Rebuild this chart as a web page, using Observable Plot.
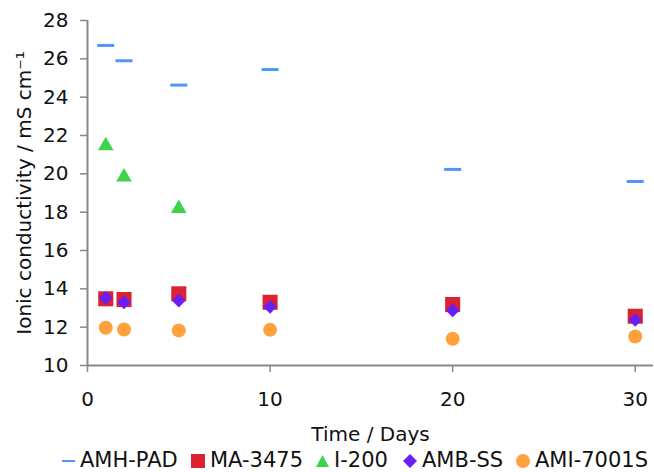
<!DOCTYPE html>
<html>
<head>
<meta charset="utf-8">
<script src="https://cdn.jsdelivr.net/npm/d3@7"></script>
<script src="https://cdn.jsdelivr.net/npm/@observablehq/plot@0.6"></script>
<style>
  html, body { margin: 0; padding: 0; background: #fff; }
  #chart { width: 654px; height: 472px; position: relative; font-family: "DejaVu Sans", Verdana, sans-serif; }
  .legend { position: absolute; left: 0; top: 449px; height: 23px; width: 654px; font-size: 21px; line-height: 23px; color: #111; white-space: nowrap; }
  .legend .item { position: absolute; top: 0; display: flex; align-items: center; height: 23px; }
  .legend svg { margin-right: 5px; }
</style>
</head>
<body>
<div id="chart"></div>
<script>
const days = [1, 2, 5, 10, 20, 30];
const seriesNames = ["AMH-PAD", "MA-3475", "I-200", "AMB-SS", "AMI-7001S"];
const amhPad = [26.70, 25.90, 24.63, 25.44, 20.23, 19.60];
const ma3475 = [13.48, 13.44, 13.74, 13.30, 13.18, 12.57];
const i200 = [21.46, 19.83, 18.19, null, null, null];
const ambSS = [13.53, 13.30, 13.39, 13.06, 12.87, 12.38];
const ami7001S = [11.97, 11.88, 11.83, 11.86, 11.39, 11.51];
const xTicks = [0, 10, 20, 30];
const yTicks = [10, 12, 14, 16, 18, 20, 22, 24, 26, 28];
const xLabel = "Time / Days";
const yLabel = "Ionic conductivity / mS cm⁻¹";

const colors = {"AMH-PAD": "#4f96f5", "MA-3475": "#db2230", "I-200": "#3ed34c", "AMB-SS": "#6a1ff2", "AMI-7001S": "#ffa23e"};

const toRows = (name, vals) => days.map((d, i) => ({series: name, day: d, value: vals[i]})).filter(r => r.value != null);
const rowsAMH = toRows("AMH-PAD", amhPad);
const rowsMA = toRows("MA-3475", ma3475);
const rowsI = toRows("I-200", i200);
const rowsAMB = toRows("AMB-SS", ambSS);
const rowsAMI = toRows("AMI-7001S", ami7001S);

const dash = { draw(ctx, size) { ctx.moveTo(-8.5, -1.5); ctx.lineTo(8.5, -1.5); ctx.lineTo(8.5, 1.5); ctx.lineTo(-8.5, 1.5); ctx.closePath(); } };

const plot = Plot.plot({
  width: 654,
  height: 448,
  marginLeft: 87,
  marginRight: 1,
  marginTop: 20,
  marginBottom: 83,
  style: {fontFamily: "DejaVu Sans, Verdana, sans-serif", fontSize: "20px", color: "#111", background: "#fff", overflow: "visible"},
  x: {domain: [0, 31]},
  y: {domain: [10, 28]},
  marks: [
    Plot.axisY({ticks: yTicks, tickSize: 7, tickPadding: 12, stroke: "#888", strokeWidth: 1.5, label: yLabel, labelAnchor: "center", labelArrow: "none", labelOffset: 71}),
    Plot.axisX({ticks: xTicks, tickSize: 7, tickPadding: 19, stroke: "#888", strokeWidth: 1.5, label: xLabel, labelAnchor: "center", labelArrow: "none", labelOffset: 75}),
    Plot.ruleX([0], {stroke: "#888", strokeWidth: 2}),
    Plot.ruleY([10], {stroke: "#888", strokeWidth: 2}),
    Plot.dot(rowsAMH, {x: "day", y: "value", symbol: dash, r: 5, fill: colors["AMH-PAD"], stroke: null}),
    Plot.dot(rowsMA, {x: "day", y: "value", symbol: "square", r: 8.5, fill: colors["MA-3475"], stroke: null}),
    Plot.dot(rowsI, {x: "day", y: "value", symbol: "triangle", r: 5.8, fill: colors["I-200"], stroke: null}),
    Plot.dot(rowsAMB, {x: "day", y: "value", symbol: "diamond2", r: 6.2, fill: colors["AMB-SS"], stroke: null}),
    Plot.dot(rowsAMI, {x: "day", y: "value", symbol: "circle", r: 7, fill: colors["AMI-7001S"], stroke: null})
  ]
});

const chart = document.getElementById("chart");
chart.appendChild(plot);

// legend
const legend = document.createElement("div");
legend.className = "legend";
const swatches = {
  "AMH-PAD": '<svg width="13" height="14"><rect x="0" y="6" width="13" height="2" fill="' + colors["AMH-PAD"] + '"/></svg>',
  "MA-3475": '<svg width="14" height="14"><rect x="0" y="0" width="14" height="14" fill="' + colors["MA-3475"] + '"/></svg>',
  "I-200": '<svg width="13" height="14"><path d="M6.5,1L13,13L0,13Z" fill="' + colors["I-200"] + '"/></svg>',
  "AMB-SS": '<svg width="14" height="14"><path d="M7,0L14,7L7,14L0,7Z" fill="' + colors["AMB-SS"] + '"/></svg>',
  "AMI-7001S": '<svg width="14" height="14"><circle cx="7" cy="7" r="7" fill="' + colors["AMI-7001S"] + '"/></svg>'
};
const lefts = [62, 191, 316, 403, 516];
seriesNames.forEach((name, i) => {
  const item = document.createElement("div");
  item.className = "item";
  item.style.left = lefts[i] + "px";
  item.innerHTML = swatches[name] + "<span>" + name + "</span>";
  legend.appendChild(item);
});
chart.appendChild(legend);
</script>
</body>
</html>
